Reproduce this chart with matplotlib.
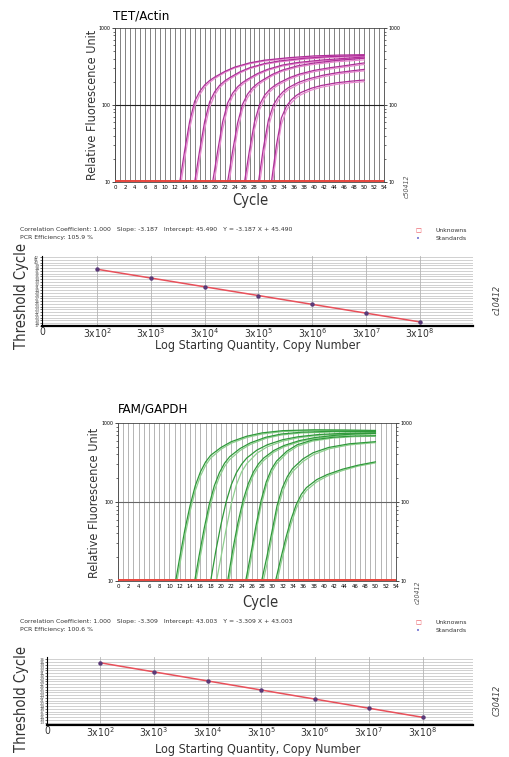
import numpy as np
import matplotlib
matplotlib.use('Agg')
import matplotlib.pyplot as plt

plt.rcParams['font.family'] = ['DejaVu Sans']
plt.rcParams['font.stretch'] = 'condensed'

cycle_ticks = list(range(0, 55, 2))

# TET/Actin amplification, one entry per standard (two wells each)
tet_cycles = [
    [12, 13, 14, 15, 16, 17, 18, 19, 20, 22, 24, 27, 30, 35, 40, 45, 50],
    [15, 16, 17, 18, 19, 20, 21, 22, 23, 25, 27, 30, 33, 38, 43, 48, 50],
    [18.6, 19.6, 20.6, 21.6, 22.6, 23.6, 24.6, 25.6, 26.6, 28.6, 30.6, 33.6, 36.6, 41.6, 46.6, 50],
    [21.6, 22.6, 23.6, 24.6, 25.6, 26.6, 27.6, 28.6, 29.6, 31.6, 33.6, 36.6, 39.6, 44.6, 50],
    [25, 26, 27, 28, 29, 30, 31, 32, 33, 35, 37, 40, 43, 46, 50],
    [27.8, 28.8, 29.8, 30.8, 31.8, 32.8, 33.8, 34.8, 36.8, 38.8, 41.8, 44.8, 47.8, 50],
    [30.4, 31.4, 32.4, 33.4, 34.4, 35.4, 36.4, 37.4, 39.4, 41.4, 44.4, 47.4, 50],
]
tet_rfu_a = [
    [3.5, 10, 26, 62, 112, 150, 182, 208, 230, 272, 310, 352, 382, 412, 434, 445, 450],
    [3.5, 10, 26, 61, 110, 148, 180, 205, 226, 268, 304, 345, 373, 404, 424, 435, 440],
    [3.5, 10, 25, 60, 106, 142, 172, 196, 216, 256, 290, 330, 356, 384, 405, 420],
    [3.5, 10, 25, 58, 102, 138, 167, 190, 210, 250, 284, 322, 348, 380, 405],
    [3.5, 10, 26, 60, 100, 133, 158, 178, 195, 226, 252, 282, 304, 323, 352],
    [3.5, 10, 28, 64, 100, 128, 150, 168, 196, 218, 244, 264, 279, 290],
    [3.5, 10, 30, 68, 96, 117, 133, 146, 165, 179, 194, 204, 211],
]
tet_rfu_b = [
    [3, 7.5, 20, 50, 96, 136, 170, 197, 220, 263, 302, 343, 372, 401, 421, 431, 436],
    [3, 7.5, 20, 49, 94, 134, 168, 194, 216, 259, 296, 337, 363, 394, 413, 424, 430],
    [3, 7.5, 19, 48, 91, 129, 160, 185, 206, 246, 281, 320, 345, 373, 393, 406],
    [3, 7.5, 19, 46, 88, 124, 155, 179, 200, 240, 274, 310, 335, 365, 386],
    [3, 7.5, 20, 48, 86, 120, 147, 168, 185, 216, 242, 271, 292, 311, 336],
    [3, 7.5, 21, 52, 87, 116, 139, 158, 185, 207, 233, 253, 268, 278],
    [3, 7.5, 23, 56, 85, 107, 124, 137, 156, 170, 185, 195, 201],
]

# FAM/GAPDH amplification
fam_cycles = [
    [10.4, 11.2, 12, 13, 14, 15, 16, 17, 18, 20, 22, 25, 28, 32, 38, 44, 50],
    [14.1, 14.9, 15.7, 16.7, 17.7, 18.7, 19.7, 20.7, 21.7, 23.7, 25.7, 28.7, 31.7, 35.7, 41.7, 50],
    [17.2, 18, 19, 20, 21, 22, 23, 24, 25, 27, 29, 32, 35, 39, 44, 50],
    [20.5, 21.3, 22.3, 23.3, 24.3, 25.3, 26.3, 27.3, 28.3, 30.3, 32.3, 35.3, 38.3, 42.3, 46.3, 50],
    [24, 24.8, 25.8, 26.8, 27.8, 28.8, 29.8, 30.8, 32.8, 34.8, 37.8, 41.8, 46, 50],
    [27.1, 27.9, 28.9, 29.9, 30.9, 31.9, 32.9, 33.9, 35.9, 37.9, 40.9, 44.9, 50],
    [29.8, 30.6, 31.6, 32.6, 33.6, 34.6, 35.6, 36.6, 38.6, 40.6, 43.6, 46.6, 50],
]
fam_rfu_a = [
    [5, 10, 20, 45, 90, 160, 240, 320, 390, 490, 580, 680, 750, 800, 820, 815, 805],
    [5, 10, 20, 45, 92, 160, 235, 310, 375, 475, 560, 660, 725, 765, 785, 780],
    [5, 10, 24, 52, 100, 165, 235, 300, 360, 455, 530, 615, 670, 715, 740, 750],
    [5, 10, 25, 55, 105, 170, 240, 305, 360, 450, 520, 600, 655, 700, 730, 740],
    [5, 10, 22, 50, 105, 180, 260, 330, 440, 530, 610, 660, 685, 690],
    [5, 10, 20, 42, 90, 150, 210, 265, 350, 420, 490, 545, 580],
    [5, 10, 19, 35, 60, 92, 125, 152, 192, 222, 260, 292, 322],
]
fam_rfu_b = [
    [4, 8, 16, 37, 76, 138, 212, 290, 360, 465, 555, 655, 725, 780, 805, 805, 800],
    [4, 8, 16, 37, 78, 138, 208, 282, 345, 448, 535, 638, 705, 748, 770, 770],
    [2, 4, 9, 20, 45, 95, 165, 240, 305, 415, 500, 590, 650, 700, 728, 740],
    [4, 8, 20, 46, 90, 150, 218, 280, 335, 428, 500, 582, 638, 685, 715, 728],
    [4, 8, 18, 42, 90, 160, 235, 305, 415, 505, 590, 645, 672, 680],
    [4, 8, 16, 35, 76, 130, 190, 242, 325, 395, 470, 528, 565],
    [4, 8, 16, 30, 52, 82, 113, 140, 180, 212, 250, 284, 312],
]

# standard curves
copies = [3e2, 3e3, 3e4, 3e5, 3e6, 3e7, 3e8]
copy_labels = ['3x10$^2$', '3x10$^3$', '3x10$^4$', '3x10$^5$', '3x10$^6$', '3x10$^7$', '3x10$^8$']
tet_ct = [37.60, 34.41, 31.22, 28.04, 24.85, 21.66, 18.47]
fam_ct = [34.81, 31.50, 28.19, 24.88, 21.57, 18.26, 14.95]

tet_stats = ['Correlation Coefficient: 1.000   Slope: -3.187   Intercept: 45.490   Y = -3.187 X + 45.490',
             'PCR Efficiency: 105.9 %']
fam_stats = ['Correlation Coefficient: 1.000   Slope: -3.309   Intercept: 43.003   Y = -3.309 X + 43.003',
             'PCR Efficiency: 100.6 %']

W, H = 509, 757
fig = plt.figure(figsize=(W / 100, H / 100), dpi=100)


def px(x0, y0, x1, y1):
    return [x0 / W, 1 - y1 / H, (x1 - x0) / W, (y1 - y0) / H]


def amp_panel(box, title, cycles, rfu_a, rfu_b, dark, light, grid_col, hline_col, code, code_xy,
              title_xy, ylab_xy, xlab_xy):
    ax = fig.add_axes(px(*box))
    ax.set_yscale('log')
    ax.set_xlim(0, 54)
    ax.set_ylim(10, 1000)
    for c in range(0, 55):
        ax.axvline(c, color=grid_col, lw=0.6, zorder=0)
    ax.axhline(100, color=hline_col, lw=0.8, zorder=1)
    for cyc, a, b in zip(cycles, rfu_a, rfu_b):
        ax.plot(cyc, b, color=light, lw=0.9, zorder=2)
        ax.plot(cyc, a, color=dark, lw=0.9, zorder=3)
    ax.axhline(10.25, color='#e8443c', lw=1.4, zorder=4)
    ax.set_xticks(cycle_ticks)
    ax.set_xticklabels([str(t) for t in cycle_ticks], fontsize=4.3)
    ax.set_yticks([10, 100, 1000])
    ax.set_yticklabels(['10', '100', '1000'], fontsize=3.8)
    ax.tick_params(axis='x', length=0, pad=2.5)
    ax.tick_params(axis='y', which='major', length=2, width=0.5, pad=1,
                   left=True, right=True, labelleft=True, labelright=True)
    ax.tick_params(axis='y', which='minor', length=1.2, width=0.4, left=True, right=True)
    ax.yaxis.set_minor_formatter(plt.NullFormatter())
    for s in ax.spines.values():
        s.set_linewidth(0.6)
        s.set_color('#444444')
    fig.text(title_xy[0] / W, 1 - title_xy[1] / H, title, fontsize=9.5, ha='left', va='center')
    fig.text(ylab_xy[0] / W, 1 - ylab_xy[1] / H, 'Relative Fluorescence Unit', fontsize=9,
             rotation=90, ha='center', va='center', color='#333333')
    fig.text(xlab_xy[0] / W, 1 - xlab_xy[1] / H, 'Cycle', fontsize=10.5, ha='center', va='center',
             color='#333333')
    fig.text(code_xy[0] / W, 1 - code_xy[1] / H, code, fontsize=5, rotation=90, ha='center',
             va='center', color='#555555', style='italic')
    return ax


def ct_panel(box, ct, ylim, left_q, right_q, stats, stats_y, legend_y, code, code_xy, ylab_y, xlab_y):
    ax = fig.add_axes(px(*box))
    ax.set_xscale('log')
    ax.set_xlim(left_q, right_q)
    ax.set_ylim(*ylim)
    for y in range(int(np.ceil(ylim[0])), int(ylim[1]) + 1):
        ax.axhline(y, color='#c9c9c9', lw=0.6, zorder=0)
    for q in copies:
        ax.axvline(q, color='#b5b5b5', lw=0.6, zorder=0)
    ax.plot(copies, ct, color='#e8505a', lw=1.1, zorder=2)
    ax.plot(copies, ct, 'o', ms=2.2, color='#5a3a78', zorder=3)
    ax.set_xticks([left_q] + copies)
    ax.set_xticklabels(['0'] + copy_labels, fontsize=7.5, color='#333333')
    ax.xaxis.set_minor_locator(plt.NullLocator())
    yt = list(range(int(np.ceil(ylim[0])), int(ylim[1]) + 1))
    ax.set_yticks(yt)
    ax.set_yticklabels([str(t) for t in yt], fontsize=3.2, color='#555555')
    ax.tick_params(axis='x', length=0, pad=0.5)
    ax.tick_params(axis='y', length=1.5, width=0.4, pad=0.5)
    ax.spines['top'].set_visible(False)
    ax.spines['right'].set_visible(False)
    ax.spines['bottom'].set_linewidth(1.6)
    ax.spines['left'].set_linewidth(0.8)
    for i, line in enumerate(stats):
        fig.text(20 / W, 1 - (stats_y + 8 * i) / H, line, fontsize=4.4, ha='left', va='center',
                 color='#333333', stretch='normal')
    fig.text(418 / W, 1 - legend_y / H, '□', fontsize=4.5, ha='center', va='center',
             color='#e8505a', stretch='normal')
    fig.text(418 / W, 1 - (legend_y + 8) / H, '•', fontsize=5, ha='center', va='center',
             color='#6a6ad0', stretch='normal')
    fig.text(436 / W, 1 - legend_y / H, 'Unknowns', fontsize=4.4, ha='left', va='center',
             color='#333333', stretch='normal')
    fig.text(436 / W, 1 - (legend_y + 8) / H, 'Standards', fontsize=4.4, ha='left', va='center',
             color='#333333', stretch='normal')
    fig.text(22 / W, 1 - ylab_y / H, 'Threshold Cycle', fontsize=10.5, rotation=90, ha='center',
             va='center', color='#333333')
    fig.text(258 / W, 1 - xlab_y / H, 'Log Starting Quantity, Copy Number', fontsize=9,
             ha='center', va='center', color='#333333')
    fig.text(code_xy[0] / W, 1 - code_xy[1] / H, code, fontsize=6.5, rotation=90, ha='center',
             va='center', color='#444444', style='italic')
    return ax


amp_panel((115, 28, 384, 182), 'TET/Actin', tet_cycles, tet_rfu_a, tet_rfu_b,
          '#b02f9a', '#e88ad0', '#6e6e6e', '#222222', 'c50412', (407, 186),
          (113, 16), (93, 105), (250, 200))
amp_panel((118, 423, 396, 581), 'FAM/GAPDH', fam_cycles, fam_rfu_a, fam_rfu_b,
          '#2f9a3a', '#8fd08f', '#a8a8a8', '#666666', 'c20412', (418, 592),
          (118, 409), (95, 503), (260, 602))

ct_panel((42, 256, 473, 326), tet_ct, (17.0, 42.4), 28.5, 2.9e9, tet_stats, 229, 231,
         'c10412', (497, 300), 296, 346)
ct_panel((47, 657, 473, 725), fam_ct, (12.15, 36.9), 31.0, 2.6e9, fam_stats, 622, 623,
         'C30412', (497, 700), 699, 750)

fig.savefig('out.png', dpi=100)
